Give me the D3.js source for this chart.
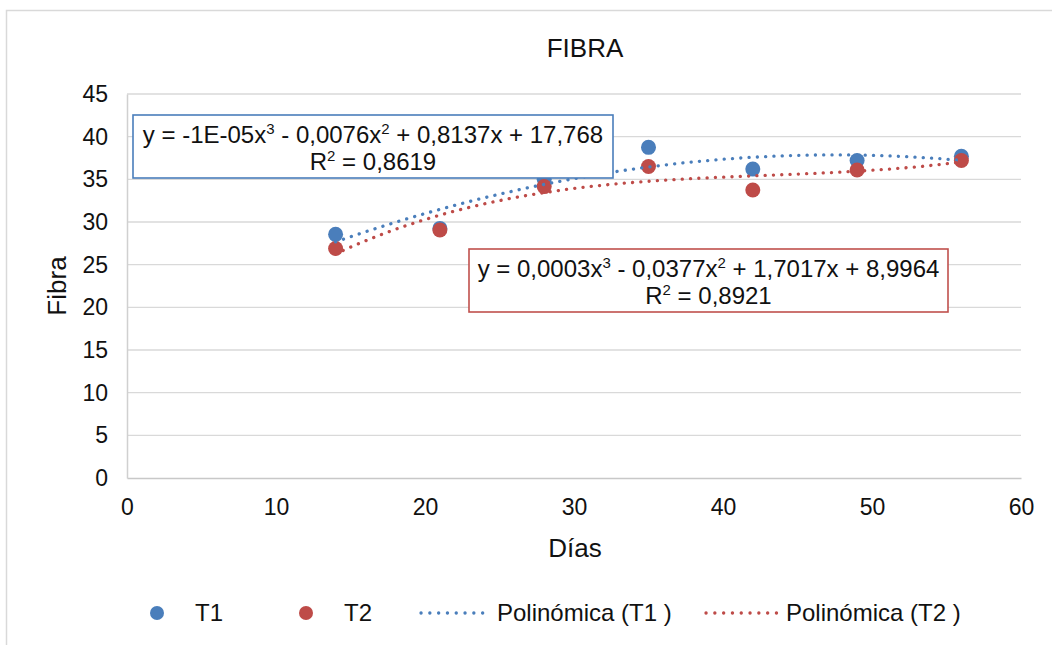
<!DOCTYPE html>
<html>
<head>
<meta charset="utf-8">
<script src="https://cdn.jsdelivr.net/npm/d3@7"></script>
<style>
  html, body { margin: 0; padding: 0; background: #fff; }
  svg { display: block; font-family: "Liberation Sans", Arial, sans-serif; }
</style>
</head>
<body>
<svg id="chart" width="1052" height="645"></svg>
<script>
// Días de muestreo y contenido de fibra por tratamiento
const dias = [14, 21, 28, 35, 42, 49, 56];
const t1 = [28.55, 29.25, 35.0, 38.75, 36.2, 37.2, 37.7];
const t2 = [26.9, 29.06, 34.15, 36.5, 33.75, 36.1, 37.2];

const xTicks = [0, 10, 20, 30, 40, 50, 60];
const yTicks = [0, 5, 10, 15, 20, 25, 30, 35, 40, 45];

const eqT1 = ["y = -1E-05x", "3", " - 0,0076x", "2", " + 0,8137x + 17,768"];
const r2T1 = "0,8619";
const eqT2 = ["y = 0,0003x", "3", " - 0,0377x", "2", " + 1,7017x + 8,9964"];
const r2T2 = "0,8921";

const colT1 = "#4a7ebb";
const colT2 = "#be4b48";

const svg = d3.select("#chart");
const W = 1052, H = 645;
const plot = { left: 127, right: 1021, top: 94, bottom: 478 };
const FONT = "Liberation Sans, Arial, sans-serif";

const x = d3.scaleLinear().domain([0, 60]).range([plot.left, plot.right]);
const y = d3.scaleLinear().domain([0, 45]).range([plot.bottom, plot.top]);

// Marco del área del gráfico
svg.append("path")
  .attr("d", `M6.5,${H} V10.5 H${W}`)
  .attr("fill", "none").attr("stroke", "#d9d9d9").attr("stroke-width", 1.5);

// Título
svg.append("text")
  .attr("x", 585).attr("y", 57)
  .attr("text-anchor", "middle")
  .attr("font-size", 26).attr("fill", "#111")
  .text("FIBRA");

// Cuadrícula horizontal
svg.append("g")
  .selectAll("line").data(yTicks.filter(d => d > 0)).join("line")
  .attr("x1", plot.left).attr("x2", plot.right)
  .attr("y1", d => y(d)).attr("y2", d => y(d))
  .attr("stroke", "#d9d9d9").attr("stroke-width", 1.3);

// Ejes
const xAxis = d3.axisBottom(x).tickValues(xTicks).tickSize(0).tickPadding(21);
const gx = svg.append("g").attr("transform", `translate(0,${plot.bottom})`).call(xAxis);
gx.select(".domain").attr("stroke", "#c8c8c8").attr("stroke-width", 1.5);
gx.selectAll("text").attr("font-size", 23).attr("fill", "#111").attr("font-family", FONT);

const yAxis = d3.axisLeft(y).tickValues(yTicks).tickSize(0).tickPadding(19);
const gy = svg.append("g").attr("transform", `translate(${plot.left},0)`).call(yAxis);
gy.select(".domain").attr("stroke", "#d0d0d0").attr("stroke-width", 1.5);
gy.selectAll("text").attr("font-size", 23).attr("fill", "#111").attr("font-family", FONT);

// Títulos de ejes
svg.append("text")
  .attr("x", 575).attr("y", 557)
  .attr("text-anchor", "middle").attr("font-size", 26).attr("fill", "#111")
  .text("Días");
svg.append("text")
  .attr("transform", `translate(66,${(plot.top + plot.bottom) / 2}) rotate(-90)`)
  .attr("text-anchor", "middle").attr("font-size", 26).attr("fill", "#111")
  .text("Fibra");

// Ajuste polinómico de grado 3 por mínimos cuadrados
function polyFit(xs, ys, deg) {
  const n = deg + 1;
  const A = Array.from({ length: n }, () => new Array(n + 1).fill(0));
  for (let i = 0; i < xs.length; i++) {
    for (let r = 0; r < n; r++) {
      for (let c = 0; c < n; c++) A[r][c] += Math.pow(xs[i], r + c);
      A[r][n] += ys[i] * Math.pow(xs[i], r);
    }
  }
  for (let p = 0; p < n; p++) {
    let max = p;
    for (let r = p + 1; r < n; r++) {
      if (Math.abs(A[r][p]) > Math.abs(A[max][p])) max = r;
    }
    const tmp = A[p]; A[p] = A[max]; A[max] = tmp;
    for (let r = 0; r < n; r++) {
      if (r === p) continue;
      const f = A[r][p] / A[p][p];
      for (let c = p; c <= n; c++) A[r][c] -= f * A[p][c];
    }
  }
  return A.map((row, i) => row[n] / row[i]);
}
const evalPoly = (coef, v) => coef.reduce((s, c, i) => s + c * Math.pow(v, i), 0);

const line = d3.line().x(d => x(d[0])).y(d => y(d[1]));
const samples = d3.range(14, 56.001, 0.5);

const series = [
  { vals: t1, col: colT1, fit: polyFit(dias, t1, 3) },
  { vals: t2, col: colT2, fit: polyFit(dias, t2, 3) }
];

// Puntos de datos
series.forEach(s => {
  svg.append("g").selectAll("circle").data(dias).join("circle")
    .attr("cx", d => x(d)).attr("cy", (d, i) => y(s.vals[i]))
    .attr("r", 7.5).attr("fill", s.col);
});

// Líneas de tendencia
series.forEach(s => {
  const pts = samples.map(v => [v, evalPoly(s.fit, v)]);
  svg.append("path").datum(pts).attr("d", line)
    .attr("fill", "none").attr("stroke", s.col).attr("stroke-width", 3.3)
    .attr("stroke-linecap", "round").attr("stroke-dasharray", "0.1 8.2");
});

// Cuadros de ecuación
function eqBox(x0, y0, w, h, col, parts, r2) {
  const g = svg.append("g");
  g.append("rect").attr("x", x0).attr("y", y0).attr("width", w).attr("height", h)
    .attr("fill", "#fff").attr("stroke", col).attr("stroke-width", 1.6);
  const t = g.append("text").attr("x", x0 + w / 2).attr("y", y0 + 28)
    .attr("text-anchor", "middle").attr("font-size", 24).attr("fill", "#111");
  parts.forEach((p, i) => {
    const sp = t.append("tspan").text(p);
    if (i % 2 === 1) sp.attr("font-size", 15).attr("dy", -9);
    else if (i > 0) sp.attr("dy", 9);
  });
  const r = g.append("text").attr("x", x0 + w / 2).attr("y", y0 + 55)
    .attr("text-anchor", "middle").attr("font-size", 24).attr("fill", "#111");
  r.append("tspan").text("R");
  r.append("tspan").text("2").attr("font-size", 15).attr("dy", -9);
  r.append("tspan").text(" = " + r2).attr("dy", 9);
}
eqBox(133, 115, 480, 63, "#4a7ebb", eqT1, r2T1);
eqBox(469, 249, 479, 63, "#c0504d", eqT2, r2T2);

// Leyenda
const leg = svg.append("g").attr("font-size", 24).attr("fill", "#111");
const ly = 613;
leg.append("circle").attr("cx", 157).attr("cy", ly).attr("r", 7).attr("fill", colT1);
leg.append("text").attr("x", 195).attr("y", ly + 8).text("T1");
leg.append("circle").attr("cx", 306).attr("cy", ly).attr("r", 7).attr("fill", colT2);
leg.append("text").attr("x", 344).attr("y", ly + 8).text("T2");
leg.append("line").attr("x1", 421).attr("x2", 491).attr("y1", ly).attr("y2", ly)
  .attr("stroke", colT1).attr("stroke-width", 3.3).attr("stroke-linecap", "round").attr("stroke-dasharray", "0.1 8.7");
leg.append("text").attr("x", 497).attr("y", ly + 8).text("Polinómica (T1 )");
leg.append("line").attr("x1", 706).attr("x2", 777).attr("y1", ly).attr("y2", ly)
  .attr("stroke", colT2).attr("stroke-width", 3.3).attr("stroke-linecap", "round").attr("stroke-dasharray", "0.1 8.7");
leg.append("text").attr("x", 786).attr("y", ly + 8).text("Polinómica (T2 )");
</script>
</body>
</html>
